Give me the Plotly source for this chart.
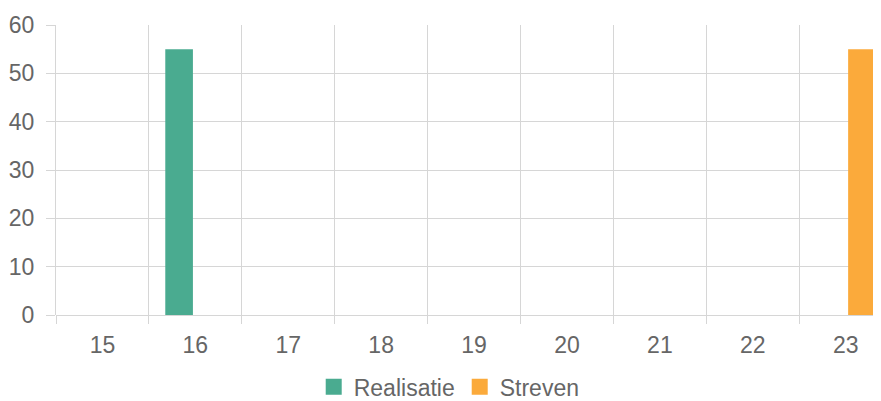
import plotly.graph_objects as go

weeks = ["15", "16", "17", "18", "19", "20", "21", "22", "23"]
realisatie = [0, 55, 0, 0, 0, 0, 0, 0, 0]
streven = [0, 0, 0, 0, 0, 0, 0, 0, 55]
y_ticks = [0, 10, 20, 30, 40, 50, 60]
series_names = ["Realisatie", "Streven"]

GREEN = "#4aab90"
ORANGE = "#fbaa3b"
GRID = "#d6d6d6"
TEXT = "#666666"
FONT = "Liberation Sans, Arial, sans-serif"

fig = go.Figure()
fig.add_trace(go.Bar(x=weeks, y=realisatie, name=series_names[0], showlegend=False,
                     marker=dict(color=GREEN, line=dict(width=0))))
fig.add_trace(go.Bar(x=weeks, y=streven, name=series_names[1], showlegend=False,
                     marker=dict(color=ORANGE, line=dict(width=0))))
# legend entries with larger square swatches
for nm, col in zip(series_names, [GREEN, ORANGE]):
    fig.add_trace(go.Scatter(x=[None], y=[None], mode="markers", name=nm,
                             marker=dict(symbol="square", size=16, color=col)))

# the page body adds an 8px offset, so the figure is 8px smaller and margins shifted
fig.update_layout(
    width=873, height=393,
    margin=dict(l=48, r=0, t=17, b=86),
    paper_bgcolor="white", plot_bgcolor="white",
    barmode="group", bargap=0.3, bargroupgap=0.15,
    font=dict(family=FONT, size=23, color=TEXT),
    showlegend=True,
    legend=dict(orientation="h", xref="container", yref="container",
                x=0.5054, xanchor="center", y=0.036, yanchor="middle",
                font=dict(size=23, color=TEXT), itemwidth=30, traceorder="normal",
                itemsizing="trace"),
)
fig.update_xaxes(
    type="category", range=[-0.5, 8.38], automargin=False,
    tickson="boundaries", showgrid=True, gridcolor=GRID, gridwidth=1,
    ticks="outside", ticklen=8, tickcolor=GRID, tickwidth=1,
    showline=False, zeroline=False, ticklabelstandoff=14,
)
fig.update_yaxes(
    range=[0, 60], tickvals=y_ticks, automargin=False,
    showgrid=True, gridcolor=GRID, gridwidth=1,
    ticks="outside", ticklen=9, tickcolor=GRID, tickwidth=1,
    showline=True, linecolor=GRID, linewidth=1,
    zeroline=True, zerolinecolor=GRID, zerolinewidth=1,
    ticklabelstandoff=7,
)

fig.write_html("out.html")
